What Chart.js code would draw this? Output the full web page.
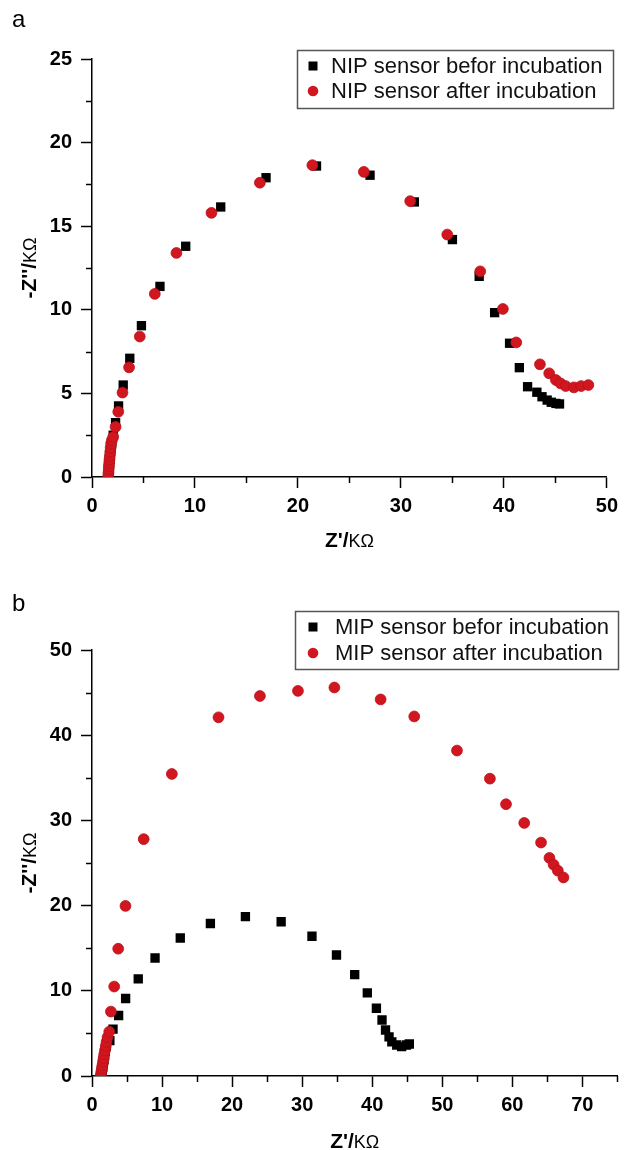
<!DOCTYPE html>
<html>
<head>
<meta charset="utf-8">
<script src="https://cdn.jsdelivr.net/npm/chart.js@4.4.1/dist/chart.umd.min.js"></script>
<style>
html,body{margin:0;padding:0;background:#fff;}
#wrap{position:relative;width:624px;height:1150px;overflow:hidden;background:#fff;}
.panel{position:absolute;left:0;width:624px;height:575px;}
</style>
</head>
<body>
<div id="wrap">
  <div class="panel" style="top:0px"><canvas id="ca" width="624" height="575"></canvas></div>
  <div class="panel" style="top:575px"><canvas id="cb" width="624" height="575"></canvas></div>
</div>
<script>
// ---------- DATA ----------
// Panel a : NIP sensor
const nipBeforeX = [1.62,1.65,1.68,1.71,1.74,1.78,1.82,1.87,1.92,2.06,2.29,2.58,3.03,3.67,4.8,6.6,9.1,12.5,16.9,21.8,27.0,31.3,35.0,37.6,39.1,40.55,41.5,42.3,43.2,43.7,44.2,44.6,45.05,45.4];
const nipBeforeY = [0.05,0.3,0.55,0.8,1.05,1.3,1.55,1.8,2.05,2.5,3.25,4.25,5.5,7.1,9.05,11.4,13.8,16.15,17.9,18.6,18.05,16.45,14.2,12.0,9.83,8.0,6.54,5.4,5.07,4.8,4.6,4.47,4.4,4.37];
const nipAfterX = [1.58,1.60,1.62,1.64,1.67,1.70,1.73,1.77,1.81,1.86,1.93,2.06,2.29,2.55,2.96,3.6,4.64,6.1,8.2,11.6,16.3,21.4,26.4,30.9,34.5,37.7,39.9,41.2,43.5,44.4,45.05,45.5,46.0,46.8,47.5,48.2];
const nipAfterY = [0.05,0.25,0.45,0.65,0.85,1.05,1.25,1.5,1.75,2.0,2.2,2.4,3.0,3.9,5.05,6.56,8.4,10.95,13.4,15.8,17.6,18.65,18.25,16.5,14.5,12.3,10.05,8.05,6.74,6.2,5.8,5.6,5.44,5.36,5.44,5.5];
// Panel b : MIP sensor
const mipBeforeX = [1.35,1.41,1.48,1.55,1.62,1.71,1.8,1.9,2.05,2.55,3.0,3.8,4.8,6.6,9.0,12.6,16.9,21.9,27.0,31.4,34.9,37.5,39.3,40.6,41.4,41.9,42.4,42.8,43.5,44.2,44.9,45.3];
const mipBeforeY = [0.05,0.35,0.7,1.05,1.45,1.9,2.4,2.9,3.5,4.15,5.5,7.1,9.1,11.4,13.85,16.2,17.9,18.7,18.1,16.4,14.2,11.9,9.75,7.95,6.57,5.4,4.6,4.0,3.64,3.45,3.64,3.76];
const mipAfterX = [1.25,1.3,1.36,1.42,1.5,1.58,1.66,1.75,1.85,1.96,2.08,2.22,2.46,2.7,3.17,3.74,4.78,7.38,11.4,18.06,23.97,29.4,34.6,41.2,46.0,52.1,56.8,59.1,61.7,64.1,65.3,65.9,66.5,67.3];
const mipAfterY = [0.05,0.3,0.6,0.95,1.3,1.7,2.1,2.55,3.0,3.5,4.0,4.55,5.2,7.56,10.5,14.94,19.96,27.8,35.45,42.1,44.6,45.2,45.6,44.2,42.2,38.2,34.9,31.9,29.7,27.4,25.6,24.8,24.1,23.3];

// ---------- TEXT / AXES ----------
const panelLetters = ['a', 'b'];
const legendLabelsA = ['NIP sensor befor incubation', 'NIP sensor after incubation'];
const legendLabelsB = ['MIP sensor befor incubation', 'MIP sensor after incubation'];
const xTitleParts = ["Z'/", "K\u03A9"];
const yTitleParts = ["-Z''/", "K\u03A9"];
const xRangeA = [0, 50], yRangeA = [0, 25];
const xRangeB = [0, 75], yRangeB = [0, 50];
const xStepA = 10, yStepA = 5, xStepB = 10, yStepB = 10;

// ---------- helpers ----------
const FONT = "'Liberation Sans', Arial, Helvetica, sans-serif";
function toPts(xs, ys) { return xs.map((x, i) => ({ x: x, y: ys[i] })); }

const decor = {
  id: 'decor',
  afterDraw(chart, args, o) {
    const ctx = chart.ctx, ca = chart.chartArea;
    const xs = chart.scales.x, ys = chart.scales.y;
    ctx.save();
    // minor ticks
    ctx.strokeStyle = '#000';
    ctx.lineWidth = 1.5;
    for (let v = o.xStep / 2; v <= xs.max + 1e-9; v += o.xStep) {
      const px = Math.round(xs.getPixelForValue(v)) + 0.5;
      ctx.beginPath(); ctx.moveTo(px, ca.bottom); ctx.lineTo(px, ca.bottom + 6); ctx.stroke();
    }
    for (let v = o.yStep / 2; v <= ys.max + 1e-9; v += o.yStep) {
      const py = Math.round(ys.getPixelForValue(v)) + 0.5;
      ctx.beginPath(); ctx.moveTo(ca.left, py); ctx.lineTo(ca.left - 6, py); ctx.stroke();
    }
    // panel letter
    ctx.fillStyle = '#000';
    ctx.font = '24px ' + FONT;
    ctx.textAlign = 'left'; ctx.textBaseline = 'alphabetic';
    ctx.fillText(o.letter, 12, o.letterY);
    // x title (mixed fonts)
    const fB = 'bold 21px ' + FONT, fU = '18px ' + FONT;
    ctx.font = fB; const w1 = ctx.measureText(xTitleParts[0]).width;
    ctx.font = fU; const w2 = ctx.measureText(xTitleParts[1]).width;
    let sx = (ca.left + ca.right) / 2 - (w1 + w2) / 2;
    const ty = ca.bottom + o.xTitleOff;
    ctx.textBaseline = 'alphabetic';
    ctx.font = fB; ctx.fillText(xTitleParts[0], sx, ty);
    ctx.font = fU; ctx.fillText(xTitleParts[1], sx + w1, ty);
    // y title rotated
    ctx.save();
    ctx.translate(o.yTitleX, (ca.top + ca.bottom) / 2);
    ctx.rotate(-Math.PI / 2);
    ctx.font = fB; const v1 = ctx.measureText(yTitleParts[0]).width;
    ctx.font = fU; const v2 = ctx.measureText(yTitleParts[1]).width;
    const s0 = -(v1 + v2) / 2;
    ctx.font = fB; ctx.fillText(yTitleParts[0], s0, 7);
    ctx.font = fU; ctx.fillText(yTitleParts[1], s0 + v1, 7);
    ctx.restore();
    // legend box
    const L = o.legend;
    ctx.strokeStyle = '#555';
    ctx.lineWidth = 1.5;
    ctx.strokeRect(L.left + 0.5, L.top + 0.5, L.right - L.left, L.bottom - L.top);
    chart.data.datasets.forEach((ds, i) => {
      const cy = L.line1 + i * L.gap;
      ctx.fillStyle = ds.backgroundColor;
      if (ds.pointStyle === 'rect') {
        ctx.fillRect(L.markX - 4.5, cy - 4.5, 9, 9);
      } else {
        ctx.beginPath(); ctx.arc(L.markX, cy, 5.3, 0, Math.PI * 2); ctx.fill();
      }
      ctx.fillStyle = '#111';
      ctx.font = '22px ' + FONT;
      ctx.textBaseline = 'middle';
      ctx.fillText(ds.label, L.textX, cy + 1);
    });
    ctx.restore();
  }
};

function makeChart(id, c) {
  return new Chart(document.getElementById(id), {
    type: 'scatter',
    data: {
      datasets: [
        { label: c.labels[0], data: toPts(c.bx, c.by), pointStyle: 'rect', pointRadius: 6.6,
          backgroundColor: '#000000', borderColor: '#000000', borderWidth: 0, order: 2 },
        { label: c.labels[1], data: toPts(c.rx, c.ry), pointStyle: 'circle', pointRadius: 5.4,
          backgroundColor: '#d2161f', borderColor: '#b81219', borderWidth: 0.8, order: 1 }
      ]
    },
    options: {
      responsive: false, animation: false, events: [],
      layout: { padding: { left: 0, right: c.padRight, top: c.padTop, bottom: 0 } },
      plugins: {
        legend: { display: false }, tooltip: { enabled: false },
        decor: c.decor
      },
      scales: {
        x: {
          type: 'linear', position: 'bottom', min: c.xr[0], max: c.xr[1],
          afterFit: s => { s.height = c.xH; },
          ticks: { stepSize: c.xStep, includeBounds: false, autoSkip: false, maxRotation: 0,
                   color: '#000', padding: 6, font: { family: FONT, size: 20, weight: 'bold' } },
          grid: { display: true, drawOnChartArea: false, drawTicks: true, tickLength: 11,
                  tickWidth: 1.5, tickColor: '#000' },
          border: { display: true, color: '#000', width: 1.5 }
        },
        y: {
          type: 'linear', position: 'left', min: c.yr[0], max: c.yr[1],
          afterFit: s => { s.width = 92; },
          ticks: { stepSize: c.yStep, includeBounds: false, autoSkip: false,
                   color: '#000', padding: 9, font: { family: FONT, size: 20, weight: 'bold' } },
          grid: { display: true, drawOnChartArea: false, drawTicks: true, tickLength: 11,
                  tickWidth: 1.5, tickColor: '#000' },
          border: { display: true, color: '#000', width: 1.5 }
        }
      }
    },
    plugins: [decor]
  });
}

makeChart('ca', {
  bx: nipBeforeX, by: nipBeforeY, rx: nipAfterX, ry: nipAfterY, labels: legendLabelsA,
  xr: xRangeA, yr: yRangeA, xStep: xStepA, yStep: yStepA,
  padTop: 59, padRight: 14, xH: 98,
  decor: { xStep: xStepA, yStep: yStepA, letter: panelLetters[0], letterY: 27,
           xTitleOff: 70, yTitleX: 29,
           legend: { left: 297, right: 613, top: 50, bottom: 108, line1: 66, gap: 25, markX: 313, textX: 331 } }
});
makeChart('cb', {
  bx: mipBeforeX, by: mipBeforeY, rx: mipAfterX, ry: mipAfterY, labels: legendLabelsB,
  xr: xRangeB, yr: yRangeB, xStep: xStepB, yStep: yStepB,
  padTop: 75, padRight: 3, xH: 74,
  decor: { xStep: xStepB, yStep: yStepB, letter: panelLetters[1], letterY: 36,
           xTitleOff: 72, yTitleX: 29,
           legend: { left: 295, right: 618, top: 36, bottom: 94, line1: 52, gap: 26, markX: 313, textX: 335 } }
});
</script>
</body>
</html>
